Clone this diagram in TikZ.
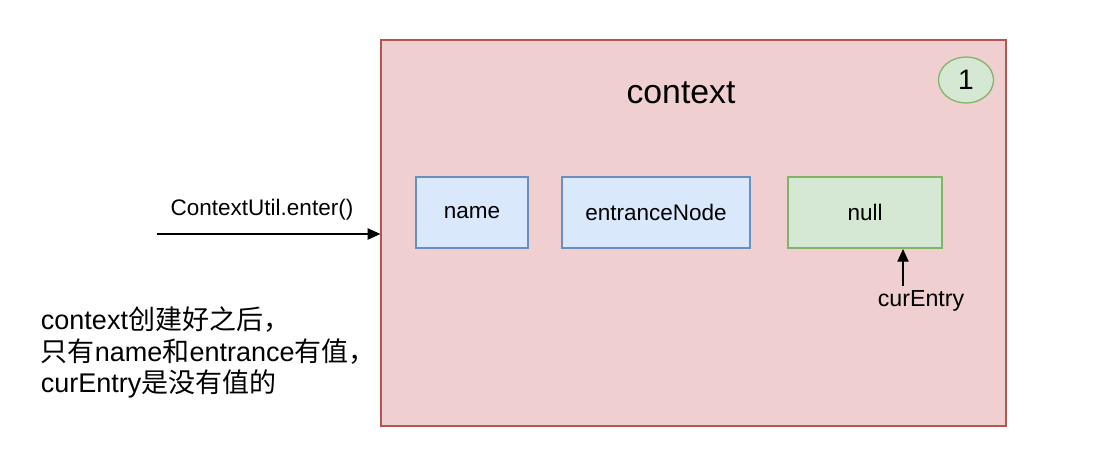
\documentclass[tikz,border=0pt]{standalone}
\usepackage{fontspec}
\setmainfont{Liberation Sans}
\newfontfamily\cjk{Noto Sans CJK SC}
\usetikzlibrary{shapes.geometric,arrows.meta}
\definecolor{ctxfill}{HTML}{F0CFD0}
\definecolor{ctxline}{HTML}{B85450}
\definecolor{bluefill}{HTML}{DAE8FC}
\definecolor{blueline}{HTML}{6C8EBF}
\definecolor{greenfill}{HTML}{D5E8D4}
\definecolor{greenline}{HTML}{82B366}
\tikzset{
    field/.style={draw=blueline, fill=bluefill, line width=0.8pt, minimum height=71*0.025cm, font=\fontsize{16}{19}\selectfont},
    nullfield/.style={field, draw=greenline, fill=greenfill},
    pointer/.style={-{Triangle[length=9pt,width=8pt]}, line width=0.9pt}
}
\begin{document}
\begin{tikzpicture}[x=0.025cm, y=-0.025cm]
    \useasboundingbox (0,0) rectangle (1108,466);

    % context 外框
    \node[draw=ctxline, fill=ctxfill, line width=0.9pt, minimum width=625*0.025cm, minimum height=386*0.025cm] (ctx) at (693.5,233) {};
    \node[font=\fontsize{24}{28}\selectfont] (title) at (681,93) {context};
    \node[ellipse, draw=greenline, fill=greenfill, line width=0.9pt, minimum width=55*0.025cm, minimum height=46*0.025cm, font=\fontsize{20}{24}\selectfont] (num) at (966,80) {1};

    % 字段
    \node[field, minimum width=112*0.025cm] (name) at (472,212.5) {name};
    \node[field, minimum width=188*0.025cm] (entrance) at (656,212.5) {entranceNode};
    \node[nullfield, minimum width=154*0.025cm] (null) at (865,212.5) {null};

    % curEntry 指针
    \node[font=\fontsize{16.5}{20}\selectfont] (cur) at (921,301) {curEntry};
    \coordinate (curtip) at (903,249);
    \draw[pointer] (cur.north -| curtip) -- (curtip);

    % 入口调用
    \coordinate (start) at (157,234);
    \draw[pointer] (start) -- (start -| ctx.west) node[pos=0.47, above=6pt, font=\fontsize{16}{19}\selectfont] (call) {ContextUtil.enter()};

    % 说明
    \node[anchor=north west, align=left, font=\fontsize{19.2}{22.4}\selectfont] (note) at (36,302)
        {context{\cjk 创建好之后，}\\{\cjk 只有}name{\cjk 和}entrance{\cjk 有值，}\\curEntry{\cjk 是没有值的}};
\end{tikzpicture}
\end{document}
